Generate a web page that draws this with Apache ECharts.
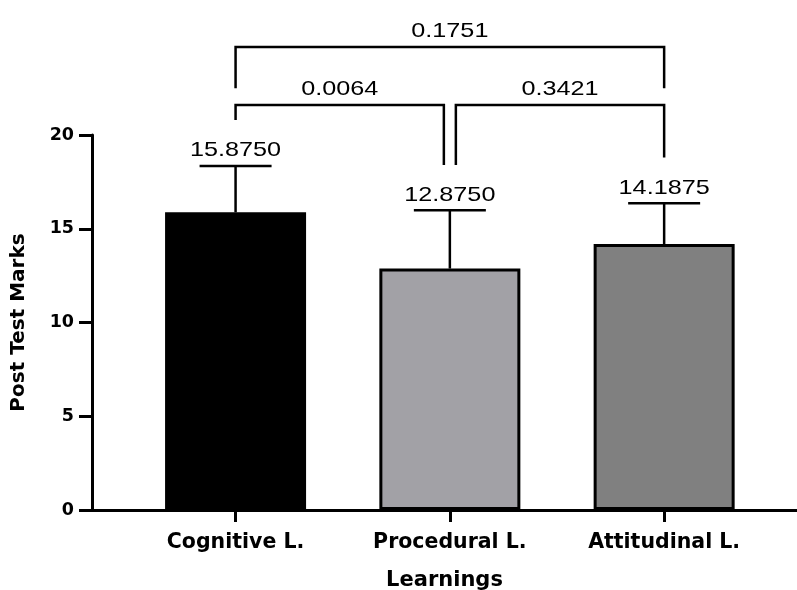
<!DOCTYPE html>
<html>
<head>
<meta charset="utf-8">
<script src="https://cdn.jsdelivr.net/npm/echarts@6/dist/echarts.min.js"></script>
<style>
  html, body { margin: 0; padding: 0; background: #fff; }
  #chart { width: 797px; height: 590px; }
</style>
</head>
<body>
<div id="chart"></div>
<script>
// Post-test marks by learning domain (mean, SD) with pairwise p-values
var categories = ['Cognitive L.', 'Procedural L.', 'Attitudinal L.'];
var means = [15.875, 12.875, 14.1875];
var meanLabels = ['15.8750', '12.8750', '14.1875'];
var sds = [2.47, 3.11, 2.17];
var yTicks = [0, 5, 10, 15, 20];

// comparison brackets: category indices, p-value text, heights in marks
var bracketFrom = [0, 0, 1];
var bracketTo = [2, 1, 2];
var bracketText = ['0.1751', '0.0064', '0.3421'];
var bracketTop = [24.7, 21.6, 21.6];
var bracketLeftEnd = [22.5, 20.8, 18.4];
var bracketRightEnd = [22.5, 18.4, 18.8];

var barColors = ['#000000', '#a2a1a6', '#808080'];

var chart = echarts.init(document.getElementById('chart'), null, { renderer: 'canvas' });

var barData = means.map(function (m, i) {
  return { value: [i, m], itemStyle: { color: barColors[i] } };
});
var errData = means.map(function (m, i) { return [i, m, m + sds[i]]; });
var bracketData = bracketFrom.map(function (f, i) {
  return [f, bracketTo[i], bracketTop[i], bracketLeftEnd[i], bracketRightEnd[i], i];
});

// small horizontal nudges so brackets sharing a bar don't overlap
var bracketNudge = [[0, 0], [0, -6], [6, 0]];
var TEXT_FONT = '21px "Liberation Sans", Arial, sans-serif';
var TEXT_STRETCH = 1.2;
var BOLD = '"DejaVu Sans", "Liberation Sans", Arial, sans-serif';

var option = {
  backgroundColor: '#ffffff',
  animation: false,
  grid: { left: 92, right: 0, top: 135, bottom: 80, containLabel: false, outerBoundsMode: 'none' },
  xAxis: {
    type: 'value',
    min: -0.67,
    max: 2.62,
    name: 'Learnings',
    nameLocation: 'middle',
    nameGap: 60,
    nameTextStyle: { fontFamily: BOLD, fontWeight: 'bold', fontSize: 21, color: '#000' },
    axisLine: { show: true, onZero: false, lineStyle: { color: '#000', width: 3 } },
    axisTick: { show: true, customValues: [0, 1, 2], length: 12, inside: false, lineStyle: { color: '#000', width: 3 } },
    axisLabel: {
      customValues: [0, 1, 2],
      margin: 22,
      fontFamily: BOLD, fontWeight: 'bold', fontSize: 20.5, color: '#000',
      formatter: function (v) { return categories[Math.round(v)]; }
    },
    splitLine: { show: false }
  },
  yAxis: {
    type: 'value',
    min: 0,
    max: 20,
    interval: 5,
    name: 'Post Test Marks',
    nameLocation: 'middle',
    nameGap: 63,
    nameRotate: 90,
    nameTextStyle: { fontFamily: BOLD, fontWeight: 'bold', fontSize: 20, color: '#000' },
    axisLine: { show: true, onZero: false, lineStyle: { color: '#000', width: 3 } },
    axisTick: { show: true, length: 13, lineStyle: { color: '#000', width: 3 } },
    axisLabel: {
      margin: 18,
      fontFamily: BOLD, fontWeight: 'bold', fontSize: 17.5, color: '#000',
      formatter: function (v) { return yTicks.indexOf(v) >= 0 ? String(v) : ''; }
    },
    splitLine: { show: false }
  },
  series: [
    {
      type: 'bar',
      data: barData,
      barWidth: 141,
      itemStyle: { borderColor: '#000', borderWidth: 3 },
      z: 3
    },
    {
      // error bars (upper arm) with value labels above the caps
      type: 'custom',
      clip: false,
      z: 2,
      data: errData,
      renderItem: function (params, api) {
        var i = params.dataIndex;
        var base = api.coord([api.value(0), api.value(1)]);
        var top = api.coord([api.value(0), api.value(2)]);
        var half = 36;
        return {
          type: 'group',
          children: [
            { type: 'line', shape: { x1: top[0], y1: base[1], x2: top[0], y2: top[1] },
              style: { stroke: '#000', lineWidth: 2.5 } },
            { type: 'line', shape: { x1: top[0] - half, y1: top[1], x2: top[0] + half, y2: top[1] },
              style: { stroke: '#000', lineWidth: 2.5 } },
            { type: 'text', x: top[0], y: top[1] - 5, scaleX: TEXT_STRETCH,
              style: { text: meanLabels[i], font: TEXT_FONT, fill: '#000',
                       textAlign: 'center', textVerticalAlign: 'bottom' } }
          ]
        };
      }
    },
    {
      // significance brackets with p-values
      type: 'custom',
      clip: false,
      z: 4,
      data: bracketData,
      renderItem: function (params, api) {
        var k = api.value(5);
        var nudge = bracketNudge[k];
        var lt = api.coord([api.value(0), api.value(2)]);
        var rt = api.coord([api.value(1), api.value(2)]);
        var lb = api.coord([api.value(0), api.value(3)]);
        var rb = api.coord([api.value(1), api.value(4)]);
        var xl = lt[0] + nudge[0];
        var xr = rt[0] + nudge[1];
        return {
          type: 'group',
          children: [
            { type: 'polyline',
              shape: { points: [[xl, lb[1]], [xl, lt[1]], [xr, rt[1]], [xr, rb[1]]] },
              style: { stroke: '#000', lineWidth: 2.5, fill: null, lineJoin: 'miter' } },
            { type: 'text', x: (xl + xr) / 2, y: lt[1] - 5, scaleX: TEXT_STRETCH,
              style: { text: bracketText[k], font: TEXT_FONT, fill: '#000',
                       textAlign: 'center', textVerticalAlign: 'bottom' } }
          ]
        };
      }
    }
  ]
};

chart.setOption(option);
</script>
</body>
</html>
